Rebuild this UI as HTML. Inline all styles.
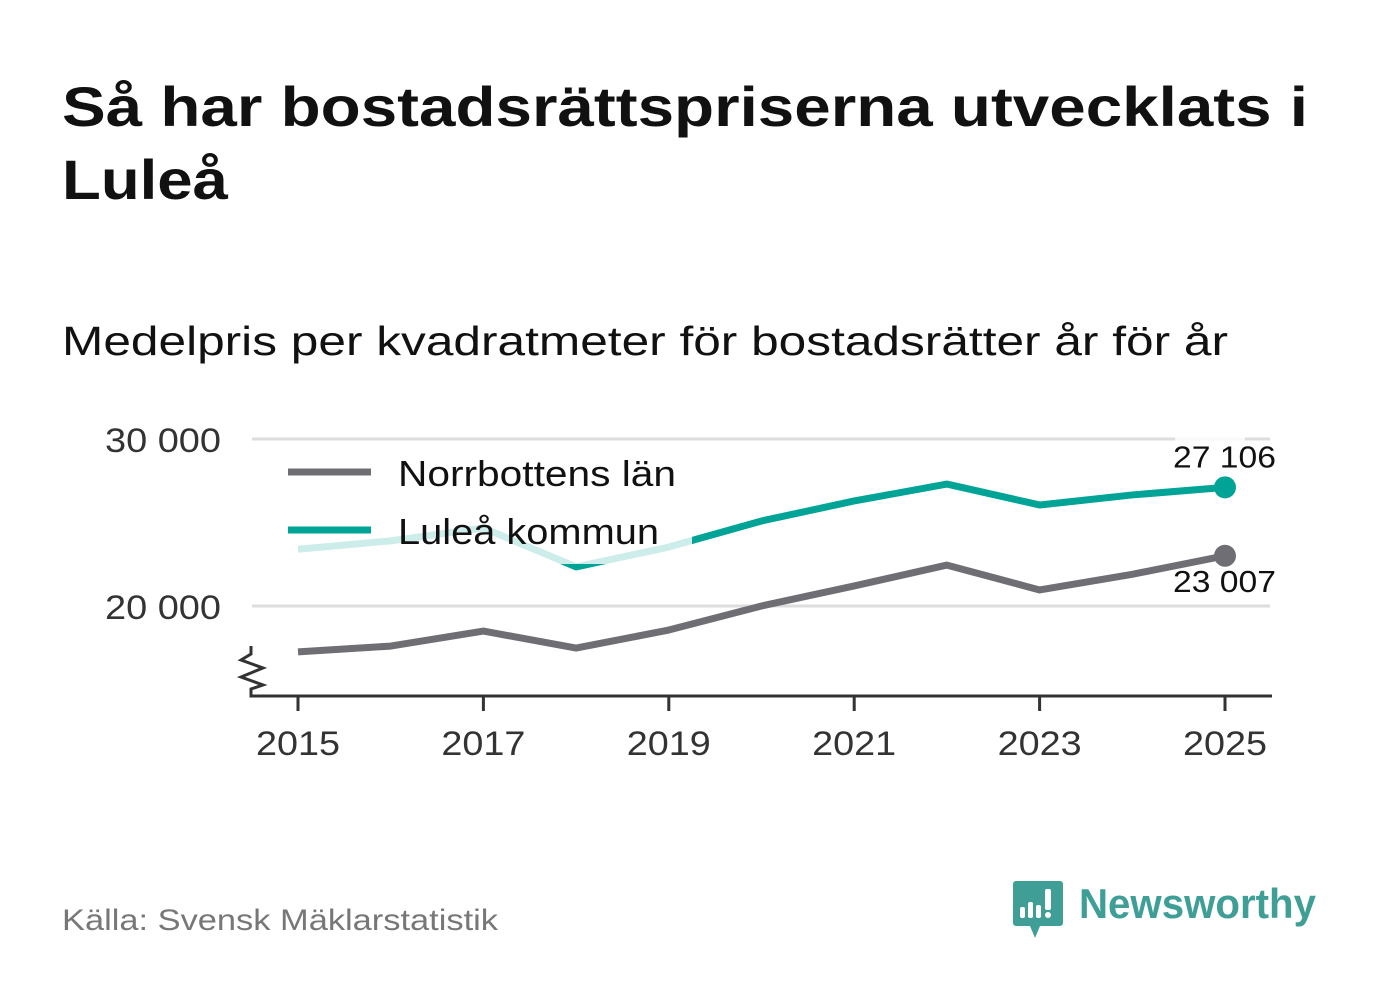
<!DOCTYPE html>
<html><head><meta charset="utf-8"><style>
body{margin:0;background:#fff;font-family:"Liberation Sans",sans-serif;}
svg text{font-family:"Liberation Sans","DejaVu Sans",sans-serif;}
</style></head><body>
<svg width="1382" height="999" xmlns="http://www.w3.org/2000/svg">
<rect width="1382" height="999" fill="#fff"/>
<text x="62" y="126" font-size="56" font-weight="bold" fill="#111" textLength="1246" lengthAdjust="spacingAndGlyphs">Så har bostadsrättspriserna utvecklats i</text>
<text x="62" y="199" font-size="56" font-weight="bold" fill="#111" textLength="166" lengthAdjust="spacingAndGlyphs">Luleå</text>
<text x="62" y="355" font-size="41" fill="#111" textLength="1166" lengthAdjust="spacingAndGlyphs">Medelpris per kvadratmeter för bostadsrätter år för år</text>
<g id="grid"></g>
<g id="axes"></g>
<g id="lines"></g>
<g id="legend"></g>
<text x="62" y="930" font-size="30" fill="#777" textLength="436" lengthAdjust="spacingAndGlyphs">Källa: Svensk Mäklarstatistik</text>
<g>
<path d="M1016,881 h44 a3,3 0 0 1 3,3 v39 a3,3 0 0 1 -3,3 h-20 l-5,12 l-5,-12 h-14 a3,3 0 0 1 -3,-3 v-39 a3,3 0 0 1 3,-3z" fill="#3f9f96"/>
<rect x="1020" y="907" width="5" height="11" rx="2" fill="#fff"/>
<rect x="1028" y="902" width="5" height="16" rx="2" fill="#fff"/>
<rect x="1036" y="905" width="5" height="13" rx="2" fill="#fff"/>
<rect x="1045" y="889" width="6" height="21" rx="2" fill="#fff"/>
<circle cx="1048" cy="915" r="3" fill="#fff"/>
<text x="1079" y="918" font-size="42" font-weight="bold" fill="#3f9f96" textLength="237" lengthAdjust="spacingAndGlyphs">Newsworthy</text>
</g>
</svg>
<script>
const years=[2015,2016,2017,2018,2019,2020,2021,2022,2023,2024,2025];
const norrbotten=[17250,17600,18500,17480,18560,20000,21200,22450,20960,21900,23007];
const lulea=[23400,23900,24670,22340,23530,25090,26290,27300,26050,26650,27106];
const yTicks=[20000,30000];
const xTicks=[2015,2017,2019,2021,2023,2025];
const NS="http://www.w3.org/2000/svg";
const x=v=>298+(v-2015)*(1225-298)/10;
const y=v=>606-(v-20000)*167/10000;
function mk(t,a,p){const e=document.createElementNS(NS,t);for(const k in a)e.setAttribute(k,a[k]);(p||document.getElementById('lines')).appendChild(e);return e;}
const fmt=v=>String(v).replace(/\B(?=(\d{3})+(?!\d))/g,' ');
const grid=document.getElementById('grid'),axes=document.getElementById('axes');
yTicks.forEach(t=>{
 const l=mk('line',{x1:252,x2:1270,y1:y(t),y2:y(t),stroke:'#ddd','stroke-width':3},grid);
 
 
 const tx=mk('text',{x:221,y:y(t)+13,'font-size':34,fill:'#333','text-anchor':'end',textLength:116,lengthAdjust:'spacingAndGlyphs'},grid);tx.textContent=fmt(t);
 
 
});
mk('path',{d:'M251,646 V654 L241,660 L263,668 L241,677 L263,685 L251,689 V696 H1272',fill:'none',stroke:'#333','stroke-width':3},axes);
xTicks.forEach(t=>{
 mk('line',{x1:x(t),x2:x(t),y1:696,y2:711,stroke:'#333','stroke-width':3},axes);
 const tx=mk('text',{x:x(t),y:755,'font-size':34,fill:'#333','text-anchor':'middle',textLength:84,lengthAdjust:'spacingAndGlyphs'},axes);tx.textContent=t;
 
 
});
function series(vals,col,name){
 const p=mk('polyline',{points:vals.map((v,i)=>x(years[i])+','+y(v)).join(' '),fill:'none',stroke:col,'stroke-width':7,'stroke-linejoin':'round'});
 
 
 const c=mk('circle',{cx:x(years[10]),cy:y(vals[10]),r:11,fill:col});
 
 
}
series(norrbotten,'#6f6e75','norrbotten');
series(lulea,'#00a497','lulea');
const lg=document.getElementById('legend');
mk('rect',{x:280,y:441,width:412,height:123,fill:'#fff','fill-opacity':0.8},lg);
mk('rect',{x:1175,y:434,width:70,height:12,fill:'#fff','fill-opacity':0.8},lg);
mk('line',{x1:288,x2:371,y1:472,y2:472,stroke:'#6f6e75','stroke-width':7},lg);
mk('line',{x1:288,x2:371,y1:530,y2:530,stroke:'#00a497','stroke-width':7},lg);
let t1=mk('text',{x:398,y:486,'font-size':36,fill:'#111',textLength:278,lengthAdjust:'spacingAndGlyphs'},lg);t1.textContent='Norrbottens län';


let t2=mk('text',{x:398,y:544,'font-size':36,fill:'#111',textLength:261,lengthAdjust:'spacingAndGlyphs'},lg);t2.textContent='Luleå kommun';


let l1=mk('text',{x:1276,y:y(lulea[10])-20,'font-size':31,fill:'#111','text-anchor':'end',textLength:103,lengthAdjust:'spacingAndGlyphs'},lg);l1.textContent=fmt(lulea[10]);


let l2=mk('text',{x:1276,y:y(norrbotten[10])+36,'font-size':31,fill:'#111','text-anchor':'end',textLength:103,lengthAdjust:'spacingAndGlyphs'},lg);l2.textContent=fmt(norrbotten[10]);


</script>
</body></html>
